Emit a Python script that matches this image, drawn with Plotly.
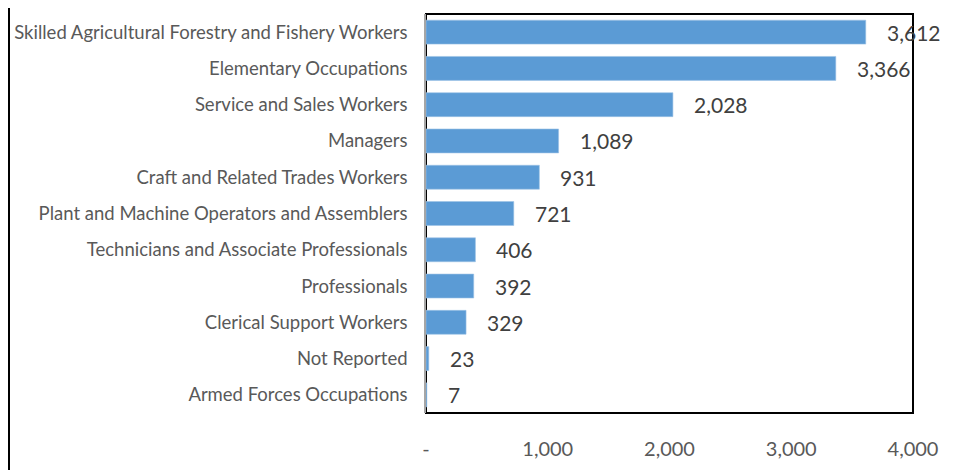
import plotly.graph_objects as go

categories = [
    "Skilled Agricultural Forestry and Fishery Workers",
    "Elementary Occupations",
    "Service and Sales Workers",
    "Managers",
    "Craft and Related Trades Workers",
    "Plant and Machine Operators and Assemblers",
    "Technicians and Associate Professionals",
    "Professionals",
    "Clerical Support Workers",
    "Not Reported",
    "Armed Forces Occupations",
]
values = [3612, 3366, 2028, 1089, 931, 721, 406, 392, 329, 23, 7]
x_tickvals = [0, 1000, 2000, 3000, 4000]
x_ticktext = ["-", "1,000", "2,000", "3,000", "4,000"]

FONT = "Lato"

# page body has an 8px default margin; compensate in figure margins
OFF = 8
L, R, T, B = 426 - OFF, 962 - (913 - OFF), 14 - OFF, 470 - (413 - OFF)
PW = 962 - L - R

fig = go.Figure()
fig.add_trace(go.Bar(
    y=categories,
    x=values,
    orientation="h",
    marker=dict(color="#5B9BD5", line=dict(color="#9DC3E6", width=0.6)),
    hoverinfo="x+y",
))

for c, v in zip(categories, values):
    fig.add_annotation(
        x=v, y=c, xref="x", yref="y",
        text=f"{v:,}",
        showarrow=False,
        xanchor="left",
        xshift=19,
        yshift=0,
        font=dict(family=FONT, size=21, color="#404040"),
    )

# plot-area box (black top/right/bottom)
fig.add_shape(type="rect", xref="paper", yref="paper", x0=0, x1=1, y0=0, y1=1,
              line=dict(color="black", width=2), layer="below")
# outer chart border visible on the left edge (as close to the page edge as possible)
xl = (1 - L) / PW
fig.add_shape(type="line", xref="paper", yref="paper",
              x0=xl, x1=xl, y0=-1, y1=2,
              line=dict(color="black", width=2))

fig.update_layout(
    width=962, height=470,
    margin=dict(l=L, r=R, t=T, b=B),
    paper_bgcolor="white",
    plot_bgcolor="white",
    showlegend=False,
    bargap=0.34,
    font=dict(family=FONT, color="#595959"),
)
fig.update_xaxes(
    range=[0, 4000],
    tickvals=x_tickvals,
    ticktext=x_ticktext,
    showgrid=False,
    zeroline=False,
    showline=False,
    tickfont=dict(family=FONT, size=20, color="#595959"),
    ticklabelstandoff=22,
)
fig.update_yaxes(
    categoryorder="array",
    categoryarray=categories[::-1],
    showgrid=False,
    zeroline=False,
    showline=True,
    linecolor="#A6A6A6",
    linewidth=1.5,
    tickfont=dict(family=FONT, size=18.5, color="#595959"),
    ticklabelstandoff=13,
)

fig.write_html("out.html")
